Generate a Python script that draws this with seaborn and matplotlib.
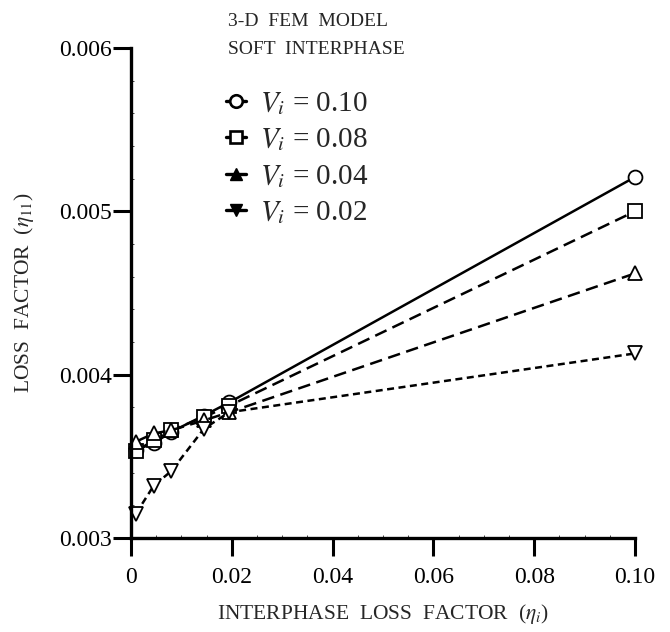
import numpy as np
import pandas as pd
import matplotlib
matplotlib.use("Agg")
import matplotlib.pyplot as plt
from matplotlib.lines import Line2D
import seaborn as sns

# interphase loss factor (x) shared by every curve
eta_i = [0.001, 0.0045, 0.008, 0.0145, 0.0195, 0.10]

# composite loss factor eta_11 for each interphase volume fraction
vi_labels = ["0.10", "0.08", "0.04", "0.02"]
eta11_v10 = [0.00354, 0.00358, 0.00365, 0.00375, 0.00383, 0.00521]
eta11_v08 = [0.00353, 0.00360, 0.00366, 0.00374, 0.00381, 0.00500]
eta11_v04 = [0.00359, 0.00364, 0.00366, 0.00372, 0.00377, 0.00462]
eta11_v02 = [0.00315, 0.00332, 0.00341, 0.00367, 0.00377, 0.00413]

x_ticks = [0, 0.02, 0.04, 0.06, 0.08, 0.10]
x_ticklabels = ["0", "0.02", "0.04", "0.06", "0.08", "0.10"]
y_ticks = [0.003, 0.004, 0.005, 0.006]
y_ticklabels = ["0.003", "0.004", "0.005", "0.006"]

sns.set_theme(style="ticks")
plt.rcParams["font.family"] = ["Liberation Serif", "DejaVu Serif"]
plt.rcParams["mathtext.fontset"] = "stix"

fig = plt.figure(figsize=(6.7, 6.32), dpi=100)
ax = fig.add_axes([131 / 670, 1 - 538 / 632, (635 - 131) / 670, (538 - 48) / 632])

series = [eta11_v10, eta11_v08, eta11_v04, eta11_v02]
markers = ["o", "s", "^", "v"]
styles = ["-", (0, (5, 2.6)), (0, (5, 2.6)), (0, (2.8, 1.8))]

for vals, mk, ls in zip(series, markers, styles):
    sns.lineplot(x=eta_i, y=vals, ax=ax, color="black", linewidth=1.8,
                 linestyle=ls, marker=mk, markersize=10, markerfacecolor="white",
                 markeredgecolor="black", markeredgewidth=1.3, clip_on=False)

ax.set_xlim(0, 0.10)
ax.set_ylim(0.003, 0.006)
ax.set_xticks(x_ticks)
ax.set_xticklabels(x_ticklabels)
ax.set_yticks(y_ticks)
ax.set_yticklabels(y_ticklabels)
ax.tick_params(axis="both", direction="out", length=13, width=2.2,
               labelsize=17, colors="black")
ax.tick_params(axis="x", pad=8)
ax.tick_params(axis="y", pad=1)
ax.set_xticks(np.arange(0, 0.1001, 0.005), minor=True)
ax.set_yticks(np.arange(0.003, 0.00601, 0.0002), minor=True)
ax.tick_params(which="minor", direction="in", length=2, width=0.6)
for side in ["top", "right"]:
    ax.spines[side].set_visible(False)
for side in ["left", "bottom"]:
    ax.spines[side].set_linewidth(2.4)
    ax.spines[side].set_color("black")

ax.set_xlabel(r"INTERPHASE  LOSS  FACTOR  ($\eta_i$)", fontsize=15.5, labelpad=10)
ax.set_ylabel(r"LOSS  FACTOR  ($\eta_{11}$)", fontsize=15.5, labelpad=16)

fig.text(228 / 670, 1 - 22 / 632, "3-D  FEM  MODEL", fontsize=14, va="center")
fig.text(228 / 670, 1 - 50 / 632, "SOFT  INTERPHASE", fontsize=14, va="center")

handles = [
    Line2D([], [], color="black", lw=2.4, marker="o", markersize=9,
           markerfacecolor="white", markeredgewidth=1.9),
    Line2D([], [], color="black", lw=2.4, marker="s", markersize=9,
           markerfacecolor="white", markeredgewidth=1.9),
    Line2D([], [], color="black", lw=2.4, marker="^", markersize=9),
    Line2D([], [], color="black", lw=2.4, marker="v", markersize=9),
]
labels = [r"$V_i$ = " + v for v in vi_labels]
ax.legend(handles, labels, loc="upper left", frameon=False, fontsize=21,
          bbox_to_anchor=(226 / 670, 1 - 90 / 632), bbox_transform=fig.transFigure,
          borderpad=0, borderaxespad=0, handlelength=0.7, handletextpad=0.45,
          labelspacing=0.33)

fig.savefig("out.png", dpi=100, facecolor="white")
